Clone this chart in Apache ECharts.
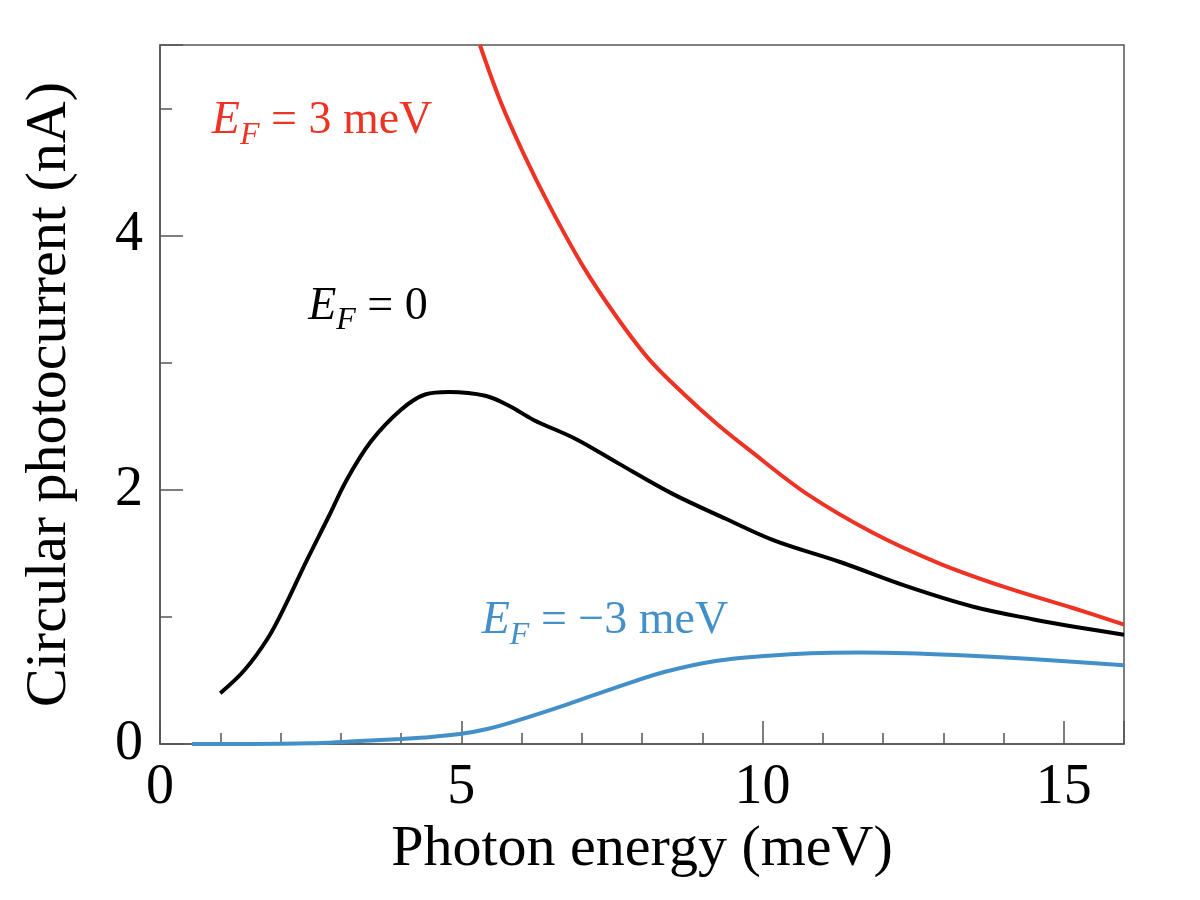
<!DOCTYPE html>
<html>
<head>
<meta charset="utf-8">
<script src="https://cdn.jsdelivr.net/npm/echarts@6/dist/echarts.min.js"></script>
<style>
    html, body { margin: 0; padding: 0; background: #fff; }
    #chart { width: 1200px; height: 900px; }
</style>
</head>
<body>
<div id="chart"></div>
<script>
// photon energy (meV) / photocurrent (nA)
const blackX = [1.0, 1.4, 1.8, 2.1, 2.4, 2.8, 3.1, 3.5, 4.0, 4.4, 4.8, 5.4, 5.8, 6.2, 6.9, 7.6, 8.5, 9.4, 10.2, 11.3, 12.4, 13.5, 14.5, 15.2, 16];
const blackY = [0.40, 0.58, 0.84, 1.11, 1.41, 1.79, 2.08, 2.38, 2.63, 2.75, 2.77, 2.74, 2.66, 2.55, 2.40, 2.21, 1.97, 1.77, 1.60, 1.43, 1.24, 1.08, 0.98, 0.92, 0.86];

const redX = [5.31, 5.64, 6.03, 6.47, 7.02, 7.58, 8.13, 8.68, 9.24, 9.79, 10.73, 11.84, 12.94, 14.05, 15.15, 16];
const redY = [5.50, 5.07, 4.65, 4.23, 3.76, 3.36, 3.02, 2.76, 2.52, 2.31, 1.97, 1.66, 1.42, 1.23, 1.07, 0.94];

const blueX = [0.53, 1.5, 2.5, 3.15, 4.0, 4.5, 5.0, 5.45, 5.9, 6.75, 7.6, 8.4, 9.25, 10.1, 10.8, 11.6, 12.4, 13.2, 14.4, 16];
const blueY = [0, 0, 0.005, 0.02, 0.04, 0.055, 0.08, 0.12, 0.18, 0.31, 0.45, 0.57, 0.655, 0.695, 0.715, 0.72, 0.715, 0.70, 0.67, 0.62];

const xLabels = [0, 5, 10, 15];
const yLabels = [0, 2, 4];

// text labels: [x, y, rest of text after E_F]
const labelRed = [0.86, 4.90, ' = 3 meV'];
const labelBlack = [2.46, 3.44, ' = 0'];
const labelBlue = [5.34, 0.965, ' = \u22123 meV'];

const FONT = 'Liberation Serif';
const RED = '#EC3324';
const BLUE = '#4390C8';
const AXIS = '#555';

const zip = (xs, ys) => xs.map((x, i) => [x, ys[i]]);

const lineSeries = (name, data, color, label) => ({
    name: name,
    type: 'line',
    data: data,
    showSymbol: false,
    smooth: 0.35,
    clip: true,
    animation: false,
    lineStyle: { color: color, width: 4 },
    markPoint: {
        symbol: 'circle',
        symbolSize: 0,
        animation: false,
        silent: true,
        data: [{ coord: [label[0], label[1]] }],
        label: {
            show: true,
            position: 'right',
            distance: 0,
            formatter: () => `{e|E}{s|F}{t|${label[2]}}`,
            rich: {
                e: { fontFamily: FONT, fontStyle: 'italic', fontSize: 46, color: color, lineHeight: 60 },
                s: { fontFamily: FONT, fontStyle: 'italic', fontSize: 32, color: color, lineHeight: 30, verticalAlign: 'bottom' },
                t: { fontFamily: FONT, fontSize: 46, color: color, lineHeight: 60 }
            }
        }
    }
});

const minorAxisBase = {
    type: 'value',
    min: 0,
    axisLine: { show: true, lineStyle: { color: AXIS, width: 1.5 } },
    splitLine: { show: false },
    nameTextStyle: { fontFamily: FONT, fontSize: 58, color: '#000' }
};

const option = {
    backgroundColor: '#fff',
    grid: {
        left: 160,
        right: 76,
        top: 45,
        bottom: 156,
        show: true,
        borderColor: AXIS,
        borderWidth: 1.5
    },
    xAxis: [{
        ...minorAxisBase,
        max: 16,
        interval: 1,
        name: 'Photon energy (meV)',
        nameLocation: 'middle',
        nameGap: 72,
        axisTick: { show: true, inside: true, length: 11, lineStyle: { color: AXIS, width: 1.5 } },
        axisLabel: {
            show: true,
            margin: 16,
            fontFamily: FONT,
            fontSize: 56,
            color: '#000',
            formatter: v => (xLabels.includes(v) ? String(v) : '')
        }
    }, {
        type: 'value',
        position: 'bottom',
        min: 0,
        max: 16,
        interval: 5,
        axisLine: { show: false },
        splitLine: { show: false },
        axisLabel: { show: false },
        axisTick: { show: true, inside: true, length: 23, lineStyle: { color: AXIS, width: 1.5 } }
    }],
    yAxis: [{
        ...minorAxisBase,
        max: 5.5,
        interval: 1,
        name: 'Circular photocurrent (nA)',
        nameLocation: 'middle',
        nameGap: 81,
        axisTick: { show: true, inside: true, length: 12, lineStyle: { color: AXIS, width: 1.5 } },
        axisLabel: {
            show: true,
            margin: 17,
            fontFamily: FONT,
            fontSize: 56,
            color: '#000',
            formatter: v => (yLabels.includes(v) ? String(v) : '')
        }
    }, {
        type: 'value',
        position: 'left',
        min: 0,
        max: 5.5,
        interval: 2,
        axisLine: { show: false },
        splitLine: { show: false },
        axisLabel: { show: false },
        axisTick: { show: true, inside: true, length: 23, lineStyle: { color: AXIS, width: 1.5 } }
    }],
    series: [
        lineSeries('EF=3', zip(redX, redY), RED, labelRed),
        lineSeries('EF=0', zip(blackX, blackY), '#000', labelBlack),
        lineSeries('EF=-3', zip(blueX, blueY), BLUE, labelBlue)
    ]
};

const myChart = echarts.init(document.getElementById('chart'), null, { renderer: 'canvas' });
myChart.setOption(option);
</script>
</body>
</html>
